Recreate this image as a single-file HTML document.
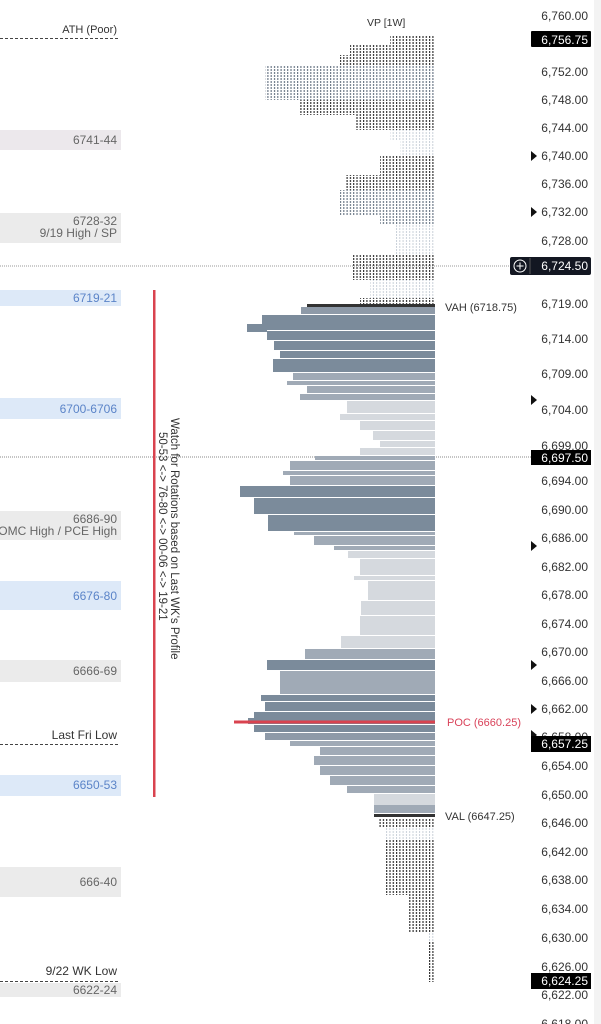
<!DOCTYPE html>
<html><head><meta charset="utf-8"><style>
html,body{margin:0;padding:0;background:#fff;}
svg{display:block;font-family:"Liberation Sans",sans-serif;}
</style></head><body>
<svg width="601" height="1024" viewBox="0 0 601 1024" xmlns="http://www.w3.org/2000/svg">
<defs>
<pattern id="hd" width="3.3" height="3" patternUnits="userSpaceOnUse"><rect x="0" y="0" width="1.2" height="2" fill="#333"/></pattern>
<pattern id="hm" width="3.3" height="3" patternUnits="userSpaceOnUse"><rect x="0" y="0" width="1.2" height="2" fill="#6d7a88"/></pattern>
<pattern id="hl" width="3.3" height="3" patternUnits="userSpaceOnUse"><rect x="0" y="0" width="1" height="2" fill="#c9d0d8"/></pattern>
</defs>
<rect width="601" height="1024" fill="#fff"/>
<rect x="594" y="0" width="7" height="1024" fill="#f3f3f3"/>

<line x1="0" y1="266" x2="512" y2="266" stroke="#999" stroke-width="1" stroke-dasharray="1,1"/>
<line x1="0" y1="457" x2="533" y2="457" stroke="#888" stroke-width="1" stroke-dasharray="1,1"/>

<g font-size="12" text-anchor="end">
<text x="117" y="33" fill="#333" font-size="11">ATH (Poor)</text>
<line x1="0" y1="38.5" x2="120" y2="38.5" stroke="#444" stroke-dasharray="3,2"/>
<rect x="0" y="130" width="121" height="20" fill="#ece8ec"/><text x="117" y="144" fill="#666">6741-44</text>
<rect x="0" y="213" width="121" height="30" fill="#ebebeb"/><text x="117" y="225" fill="#666">6728-32</text><text x="117" y="237" fill="#666">9/19 High / SP</text>
<rect x="0" y="290" width="121" height="16" fill="#dde9f8"/><text x="117" y="302" fill="#5b84c8">6719-21</text>
<rect x="0" y="398" width="121" height="21" fill="#dde9f8"/><text x="117" y="413" fill="#5b84c8">6700-6706</text>
<rect x="0" y="511" width="121" height="29" fill="#ebebeb"/><text x="117" y="523" fill="#666">6686-90</text><text x="117" y="535" fill="#666">OMC High /  PCE High</text>
<rect x="0" y="581" width="121" height="29" fill="#dde9f8"/><text x="117" y="600" fill="#5b84c8">6676-80</text>
<rect x="0" y="660" width="121" height="22" fill="#ebebeb"/><text x="117" y="675" fill="#666">6666-69</text>
<text x="117" y="739" fill="#333">Last Fri Low</text>
<line x1="0" y1="744.5" x2="118" y2="744.5" stroke="#444" stroke-dasharray="3,2"/>
<rect x="0" y="775" width="121" height="21" fill="#dde9f8"/><text x="117" y="789" fill="#5b84c8">6650-53</text>
<rect x="0" y="867" width="121" height="30" fill="#ebebeb"/><text x="117" y="886" fill="#666">666-40</text>
<text x="117" y="975" fill="#333">9/22 WK Low</text>
<line x1="0" y1="981.5" x2="120" y2="981.5" stroke="#444" stroke-dasharray="3,2"/>
<rect x="0" y="983" width="121" height="14" fill="#ebebeb"/><text x="117" y="994" fill="#666">6622-24</text>
</g>

<rect x="153" y="290" width="2.5" height="507" fill="#d9434f"/>
<text font-size="11.5" fill="#333" transform="translate(171,418) rotate(90)">Watch for Rotations based on Last WK's Profile</text>
<text font-size="11.5" fill="#333" transform="translate(159,432) rotate(90)">50-53 &lt;-&gt; 76-80 &lt;-&gt; 00-06 &lt;-&gt; 19-21</text>

<text x="367" y="26" font-size="10.5" fill="#333">VP [1W]</text>
<g>
<rect x="390" y="36" width="45" height="9" fill="url(#hd)"/>
<rect x="350" y="45" width="85" height="10" fill="url(#hd)"/>
<rect x="340" y="55" width="95" height="10" fill="url(#hd)"/>
<rect x="265" y="65" width="170" height="35" fill="url(#hm)"/>
<rect x="300" y="100" width="135" height="15" fill="url(#hd)"/>
<rect x="355" y="115" width="80" height="15" fill="url(#hd)"/>
<rect x="390" y="130" width="45" height="10" fill="url(#hl)"/>
<rect x="400" y="140" width="35" height="15" fill="url(#hl)"/>
<rect x="380" y="155" width="55" height="20" fill="url(#hd)"/>
<rect x="345" y="175" width="90" height="15" fill="url(#hd)"/>
<rect x="340" y="190" width="95" height="25" fill="url(#hm)"/>
<rect x="380" y="215" width="55" height="10" fill="url(#hm)"/>
<rect x="395" y="225" width="40" height="30" fill="url(#hl)"/>
<rect x="352" y="255" width="83" height="25" fill="url(#hd)"/>
<rect x="370" y="280" width="65" height="18" fill="url(#hl)"/>
<rect x="360" y="298" width="75" height="7" fill="url(#hd)"/>
</g>

<g>
<rect x="307" y="304" width="128" height="3" fill="#333"/>
<rect x="301" y="307" width="134" height="7" fill="#8e9aa8"/>
<rect x="262" y="315" width="173" height="15" fill="#7b8b9b"/>
<rect x="247" y="324" width="20" height="8" fill="#7b8b9b"/>
<rect x="267" y="331" width="168" height="9" fill="#7b8b9b"/>
<rect x="274" y="341" width="161" height="9" fill="#7b8b9b"/>
<rect x="280" y="351" width="155" height="7" fill="#7b8b9b"/>
<rect x="273" y="359" width="162" height="13" fill="#7b8b9b"/>
<rect x="293" y="373" width="142" height="7" fill="#a0aab6"/>
<rect x="287" y="381" width="148" height="4" fill="#a0aab6"/>
<rect x="307" y="386" width="128" height="7" fill="#a0aab6"/>
<rect x="300" y="394" width="135" height="6" fill="#a0aab6"/>
<rect x="347" y="401" width="88" height="12" fill="#d5d9de"/>
<rect x="340" y="414" width="95" height="6" fill="#d5d9de"/>
<rect x="360" y="421" width="75" height="9" fill="#d5d9de"/>
<rect x="373" y="431" width="62" height="9" fill="#d5d9de"/>
<rect x="380" y="441" width="55" height="6" fill="#d5d9de"/>
<rect x="360" y="448" width="75" height="7" fill="#d5d9de"/>
<rect x="315" y="456" width="120" height="4" fill="#a0aab6"/>
<rect x="290" y="461" width="145" height="9" fill="#a0aab6"/>
<rect x="283" y="471" width="152" height="4" fill="#a0aab6"/>
<rect x="290" y="476" width="145" height="9" fill="#a0aab6"/>
<rect x="240" y="486" width="195" height="11" fill="#7b8b9b"/>
<rect x="254" y="498" width="181" height="16" fill="#7b8b9b"/>
<rect x="268" y="515" width="167" height="16" fill="#7b8b9b"/>
<rect x="294" y="532" width="141" height="3" fill="#a0aab6"/>
<rect x="314" y="536" width="121" height="9" fill="#a0aab6"/>
<rect x="334" y="546" width="101" height="4" fill="#a0aab6"/>
<rect x="348" y="551" width="87" height="7" fill="#d5d9de"/>
<rect x="360" y="559" width="75" height="16" fill="#d5d9de"/>
<rect x="354" y="576" width="81" height="4" fill="#d5d9de"/>
<rect x="368" y="581" width="67" height="19" fill="#d5d9de"/>
<rect x="361" y="601" width="74" height="14" fill="#d5d9de"/>
<rect x="360" y="616" width="75" height="19" fill="#d5d9de"/>
<rect x="341" y="636" width="94" height="12" fill="#d5d9de"/>
<rect x="305" y="649" width="130" height="10" fill="#a0aab6"/>
<rect x="290" y="660" width="145" height="6" fill="#a0aab6"/>
<rect x="267" y="660" width="168" height="10" fill="#7b8b9b"/>
<rect x="280" y="671" width="155" height="23" fill="#a0aab6"/>
<rect x="261" y="695" width="174" height="6" fill="#7b8b9b"/>
<rect x="265" y="702" width="170" height="9" fill="#7b8b9b"/>
<rect x="254" y="712" width="181" height="6" fill="#7b8b9b"/>
<rect x="248" y="718" width="187" height="6" fill="#7b8b9b"/>
<rect x="254" y="725" width="181" height="7" fill="#7b8b9b"/>
<rect x="265" y="733" width="170" height="7" fill="#8e9aa8"/>
<rect x="290" y="741" width="145" height="5" fill="#a0aab6"/>
<rect x="320" y="747" width="115" height="8" fill="#a0aab6"/>
<rect x="314" y="756" width="121" height="9" fill="#a0aab6"/>
<rect x="320" y="766" width="115" height="9" fill="#a0aab6"/>
<rect x="330" y="776" width="105" height="9" fill="#a0aab6"/>
<rect x="347" y="786" width="88" height="7" fill="#a0aab6"/>
<rect x="374" y="794" width="61" height="11" fill="#d5d9de"/>
<rect x="374" y="805" width="61" height="8" fill="#a0aab6"/>
<rect x="374" y="814" width="61" height="3" fill="#333"/>
<rect x="234" y="720.5" width="201" height="3" fill="#d9434f"/>
</g>

<rect x="378" y="818" width="57" height="10" fill="url(#hd)"/>
<rect x="385" y="828" width="50" height="12" fill="url(#hl)"/>
<rect x="386" y="840" width="49" height="55" fill="url(#hd)"/>
<rect x="408" y="895" width="27" height="37" fill="url(#hd)"/>
<rect x="429" y="932" width="6" height="10" fill="url(#hl)"/>
<rect x="429" y="942" width="6" height="40" fill="url(#hd)"/>

<text x="445" y="311" font-size="11" fill="#333">VAH (6718.75)</text>
<text x="447" y="726" font-size="11" fill="#d9435a">POC (6660.25)</text>
<text x="445" y="820" font-size="11" fill="#333">VAL (6647.25)</text>

<g font-size="12" fill="#333" text-anchor="end">
<text x="588" y="20">6,760.00</text>
<text x="588" y="76">6,752.00</text>
<text x="588" y="104">6,748.00</text>
<text x="588" y="132">6,744.00</text>
<text x="588" y="160">6,740.00</text>
<text x="588" y="188">6,736.00</text>
<text x="588" y="216">6,732.00</text>
<text x="588" y="245">6,728.00</text>
<text x="588" y="308">6,719.00</text>
<text x="588" y="343">6,714.00</text>
<text x="588" y="378">6,709.00</text>
<text x="588" y="414">6,704.00</text>
<text x="588" y="450">6,699.00</text>
<text x="588" y="485">6,694.00</text>
<text x="588" y="514">6,690.00</text>
<text x="588" y="542">6,686.00</text>
<text x="588" y="571">6,682.00</text>
<text x="588" y="599">6,678.00</text>
<text x="588" y="628">6,674.00</text>
<text x="588" y="656">6,670.00</text>
<text x="588" y="685">6,666.00</text>
<text x="588" y="713">6,662.00</text>
<text x="588" y="741">6,658.00</text>
<text x="588" y="770">6,654.00</text>
<text x="588" y="799">6,650.00</text>
<text x="588" y="827">6,646.00</text>
<text x="588" y="856">6,642.00</text>
<text x="588" y="884">6,638.00</text>
<text x="588" y="913">6,634.00</text>
<text x="588" y="942">6,630.00</text>
<text x="588" y="971">6,626.00</text>
<text x="588" y="999">6,622.00</text>
<text x="588" y="1028">6,618.00</text>
</g>
<g fill="#111">
<path d="M531,151 L537,156 L531,161Z"/>
<path d="M531,207 L537,212 L531,217Z"/>
<path d="M531,395 L537,400 L531,405Z"/>
<path d="M531,541 L537,546 L531,551Z"/>
<path d="M531,660 L537,665 L531,670Z"/>
<path d="M531,704 L537,709 L531,714Z"/>
<path d="M531,730 L537,735 L531,740Z"/>
</g>
<g font-size="12" fill="#fff" text-anchor="end">
<rect x="531" y="31" width="60" height="16" rx="1" fill="#000"/><text x="588" y="44">6,756.75</text>
<rect x="510" y="257" width="81" height="18" rx="2" fill="#131722"/>
<line x1="530" y1="258" x2="530" y2="274" stroke="#555"/>
<circle cx="520" cy="266" r="6" fill="none" stroke="#fff" stroke-width="1"/>
<path d="M516.5,266 H523.5 M520,262.5 V269.5" stroke="#fff" stroke-width="1"/>
<text x="588" y="270">6,724.50</text>
<rect x="531" y="450" width="60" height="15" fill="#000"/><text x="588" y="462">6,697.50</text>
<rect x="531" y="736" width="60" height="16" fill="#000"/><text x="588" y="748">6,657.25</text>
<rect x="531" y="973" width="60" height="16" fill="#000"/><text x="588" y="985">6,624.25</text>
</g>
</svg>
</body></html>
